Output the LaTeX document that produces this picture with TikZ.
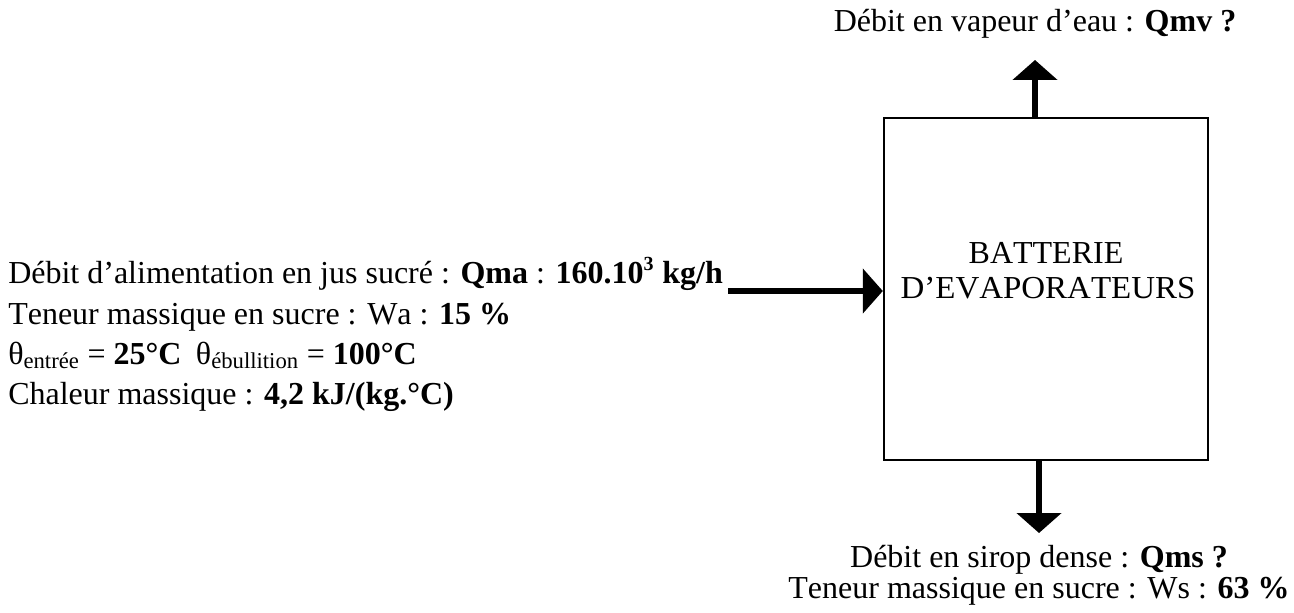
\documentclass[tikz,border=0pt]{standalone}
\usepackage{fontspec}
\usepackage{graphicx}
\setmainfont{Liberation Serif}[Kerning=Off]
\usetikzlibrary{arrows.meta}
\newcommand{\subtxt}[1]{\textsubscript{\fontsize{17}{17}\selectfont #1}}
\begin{document}
\begin{tikzpicture}[x=0.75pt,y=-0.75pt,
  txt/.style={inner sep=0pt, anchor=base west, font=\fontsize{24}{26}\selectfont},
  ctxt/.style={txt, anchor=base},
  unit/.style={draw, line width=1.8pt, minimum width=243pt, minimum height=256.5pt, inner sep=0pt},
  flow/.style={line width=5pt, -{Triangle[length=15pt,width=33pt]}}]
\useasboundingbox (0,0) rectangle (1294,613);
% evaporator unit
\node[unit] (bat) at (1046,289) {};
\node[ctxt] (bt1) at (1046,263) {BATTERIE};
\node[ctxt] (bt2) at (1048,298) {\scalebox{1.03}[1]{D'EVAPORATEURS}};
% top output
\coordinate (vtip) at (1035,60);
\draw[flow] (vtip |- bat.north) -- (vtip);
\node[ctxt] (vap) at (1035,32) {Débit en vapeur d'eau : \textbf{Qmv ?}};
% feed
\node[txt] (l1) at (8,283) {Débit d'alimentation en jus sucré : \textbf{Qma} : \textbf{160.10\textsuperscript{\fontsize{15}{15}\selectfont 3} kg/h}};
\node[txt] (l2) at (8,324) {Teneur massique en sucre : Wa : \textbf{15 \%}};
\node[txt] (l3) at (8,364) {θ\subtxt{entrée} = \textbf{25°C}\hspace{0.45em}θ\subtxt{ébullition} = \textbf{100°C}};
\node[txt] (l4) at (8,404) {Chaleur massique : \textbf{4,2 kJ/(kg.°C)}};
\coordinate (ain) at (728,291);
\draw[flow] (ain) -- (ain -| bat.west);
% bottom output
\coordinate (stip) at (1039,533);
\draw[flow] (stip |- bat.south) -- (stip);
\node[ctxt] (s1) at (1039,567) {Débit en sirop dense : \textbf{Qms ?}};
\node[ctxt] (s2) at (1039,598) {Teneur massique en sucre : Ws : \textbf{63 \%}};
\end{tikzpicture}
\end{document}
